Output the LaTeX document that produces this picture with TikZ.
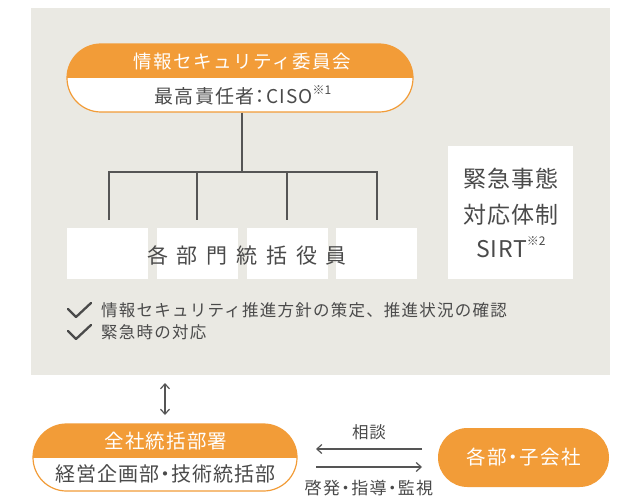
\documentclass[tikz,border=0pt]{standalone}
\usepackage{fontspec}
\setmainfont{Noto Sans CJK JP}
\usetikzlibrary{shapes.misc,arrows.meta}
\definecolor{bggray}{HTML}{EAE9E3}
\definecolor{ora}{HTML}{F29C38}
\definecolor{txt}{HTML}{4A4A4A}
\definecolor{ln}{HTML}{555555}
\newcommand{\fsz}[1]{\fontsize{#1}{#1}\selectfont}
\newcommand{\ls}[1]{\addfontfeature{LetterSpace=#1}}
\newcommand{\pal}{\addfontfeature{RawFeature=+palt}}
\newcommand{\kome}[1]{\raisebox{0.5em}{\fsz{12}\addfontfeature{LetterSpace=0}※#1}}
\tikzset{
  splitpill/.style={rounded rectangle, draw=ora, line width=1.2pt, fill=white,
    path picture={\fill[ora] (path picture bounding box.north west) rectangle (path picture bounding box.east);}},
  fullpill/.style={rounded rectangle, fill=ora, draw=none},
  wbox/.style={fill=white, draw=none, inner sep=0pt},
  wtext/.style={text=white, inner sep=0pt},
  gtext/.style={text=txt, inner sep=0pt},
  tline/.style={draw=ln, line width=1.5pt},
  arr/.style={draw=ln, line width=1.2pt},
  chk/.style={draw=txt, line width=2.3pt, line cap=round, line join=round}
}
\begin{document}
\begin{tikzpicture}[x=1pt,y=-1pt]
\fill[white] (0,0) rectangle (623,500);
\useasboundingbox (0,0) rectangle (623,500);
\fill[bggray] (31,8) rectangle (610,375);

% top committee pill
\node[splitpill, minimum width=346pt, minimum height=68pt, inner sep=0pt] (comm) at (240,78) {};
\node[wtext, font=\fsz{18.5}\ls{8}] (commT) at (242,61) {情報セキュリティ委員会};
\node[gtext, font=\fsz{19}\pal\ls{6}] (commB) at (243,95.5) {最高責任者：CISO\kome{1}};

% tree
\coordinate (tMid) at (242,172);
\coordinate (tL) at (109,172);
\coordinate (tR) at (377,172);
\coordinate (b1) at (109,220);
\coordinate (b2) at (197,220);
\coordinate (b3) at (287,220);
\coordinate (b4) at (377,220);
\coordinate (m2) at (197,172);
\coordinate (m3) at (287,172);
\draw[tline] (comm.south -| tMid) -- (tMid);
\draw[tline] (b1) -- (tL) -- (tR) -- (b4);
\draw[tline] (m2) -- (b2);
\draw[tline] (m3) -- (b3);

% white boxes
\node[wbox, minimum width=81pt, minimum height=51pt] (w1) at (107.5,253.5) {};
\node[wbox, minimum width=81pt, minimum height=51pt] (w2) at (197.5,253.5) {};
\node[wbox, minimum width=81pt, minimum height=51pt] (w3) at (287.5,253.5) {};
\node[wbox, minimum width=81pt, minimum height=51pt] (w4) at (376.5,253.5) {};
\node[gtext, font=\fsz{21}\ls{42}] (exec) at (247,255) {各部門統括役員};

% SIRT box
\node[wbox, minimum width=125pt, minimum height=133pt] (sirt) at (510.5,212.5) {};
\node[gtext, font=\fsz{23}\ls{3}] (s1) at (511,179) {緊急事態};
\node[gtext, font=\fsz{23}\ls{3}] (s2) at (511,215) {対応体制};
\node[gtext, font=\fsz{23}\ls{3}] (s3) at (511,247) {SIRT\kome{2}};

% checklist
\draw[chk] (68,309) -- (76,317) -- (91,303);
\draw[chk] (68,331) -- (76,339) -- (91,325);
\node[gtext, font=\fsz{16.5}\ls{7.5}, anchor=west] (c1) at (101,310) {情報セキュリティ推進方針の策定、推進状況の確認};
\node[gtext, font=\fsz{16.5}\ls{7.5}, anchor=west] (c2) at (101,332) {緊急時の対応};

% bottom left pill
\coordinate (dA) at (165,383);
\coordinate (dB) at (165,415);
\draw[arr, {Straight Barb[length=5pt,width=9pt]}-{Straight Barb[length=5pt,width=9pt]}] (dA) -- (dB);
\node[splitpill, minimum width=264pt, minimum height=67pt, inner sep=0pt] (hq) at (165,457.5) {};
\node[wtext, font=\fsz{19.5}\ls{6}] (hqT) at (166,441) {全社統括部署};
\node[gtext, font=\fsz{20}\pal\ls{5}] (hqB) at (165,474) {経営企画部・技術統括部};

% right pill
\node[fullpill, minimum width=171pt, minimum height=59pt, inner sep=0pt] (sub) at (523.5,457.5) {};
\node[wtext, font=\fsz{19.5}\pal\ls{7}] (subT) at (524,457.5) {各部・子会社};

% arrows between
\coordinate (a1s) at (422,449);
\coordinate (a1e) at (316,449);
\coordinate (a2s) at (316,467);
\coordinate (a2e) at (422,467);
\draw[arr, -{Straight Barb[length=5pt,width=9pt]}] (a1s) -- (a1e);
\draw[arr, -{Straight Barb[length=5pt,width=9pt]}] (a2s) -- (a2e);
\node[gtext, font=\fsz{16.5}\ls{6}] (lab1) at (369,432) {相談};
\node[gtext, font=\fsz{17}\pal\ls{8}] (lab2) at (369,488) {啓発・指導・監視};
\end{tikzpicture}
\end{document}
